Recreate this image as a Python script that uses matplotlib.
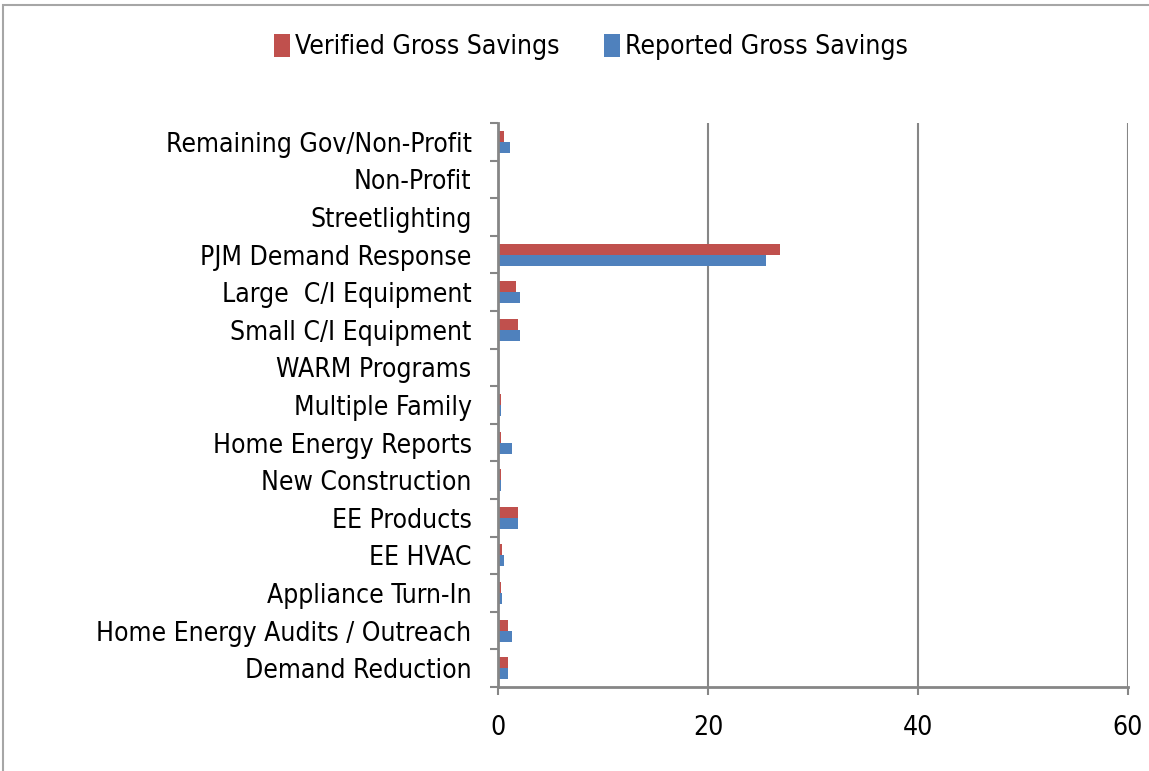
import matplotlib.pyplot as plt
import numpy as np
from matplotlib.patches import Rectangle

# program names, bottom to top as drawn
programs = ["Demand Reduction", "Home Energy Audits / Outreach", "Appliance Turn-In",
            "EE HVAC", "EE Products", "New Construction", "Home Energy Reports",
            "Multiple Family", "WARM Programs", "Small C/I Equipment",
            "Large  C/I Equipment", "PJM Demand Response", "Streetlighting",
            "Non-Profit", "Remaining Gov/Non-Profit"]
verified = [0.97, 0.97, 0.3, 0.4, 1.94, 0.3, 0.3, 0.3, 0.0, 1.9, 1.71, 26.9, 0.0, 0.0, 0.57]
reported = [0.97, 1.33, 0.4, 0.57, 1.94, 0.3, 1.33, 0.3, 0.0, 2.1, 2.1, 25.5, 0.0, 0.0, 1.17]
x_ticks = [0, 20, 40, 60]

plt.rcParams['font.family'] = ['DejaVu Sans']
plt.rcParams['font.stretch'] = 'condensed'
fs = 19

fig = plt.figure(figsize=(11.49, 7.71), dpi=100)
ax = fig.add_axes([498 / 1149, 1 - 687 / 771, 630 / 1149, 564 / 771])

# chart border
fig.patches.append(Rectangle((3 / 1149, -0.05), 1.2, 1 - 5 / 771 + 0.05,
                             transform=fig.transFigure, fill=False,
                             edgecolor='#a6a6a6', linewidth=1.5))

y = np.arange(len(programs))
h = 0.29
ax.barh(y + h / 2, verified, height=h, color='#C0504D', label='Verified Gross Savings')
ax.barh(y - h / 2, reported, height=h, color='#4F81BD', label='Reported Gross Savings')

ax.set_xlim(0, 60)
ax.set_ylim(-0.5, len(programs) - 0.5)
ax.set_xticks(x_ticks)
ax.set_xticklabels([str(t) for t in x_ticks], fontsize=fs)
ax.tick_params(axis='x', length=6, color='#868686', width=1.5, pad=14, direction='out')

# category boundary ticks, labels in between
ax.set_yticks(np.arange(-0.5, len(programs), 1.0))
ax.set_yticklabels([])
ax.tick_params(axis='y', which='major', length=6, color='#868686', width=1.5)
ax.set_yticks(y, minor=True)
ax.set_yticklabels(programs, minor=True, fontsize=fs)
ax.tick_params(axis='y', which='minor', length=0, pad=19)

ax.grid(axis='x', color='#868686', linewidth=1.5)
ax.set_axisbelow(True)
for side in ['top', 'right']:
    ax.spines[side].set_visible(False)
for side in ['left', 'bottom']:
    ax.spines[side].set_color('#868686')
    ax.spines[side].set_linewidth(2)

fig.legend(loc='center', bbox_to_anchor=(591 / 1149, 1 - 47 / 771), ncol=2, frameon=False,
           fontsize=fs, handlelength=0.6, handleheight=1.0, handletextpad=0.2,
           columnspacing=1.7)

fig.savefig('out.png', dpi=100)
